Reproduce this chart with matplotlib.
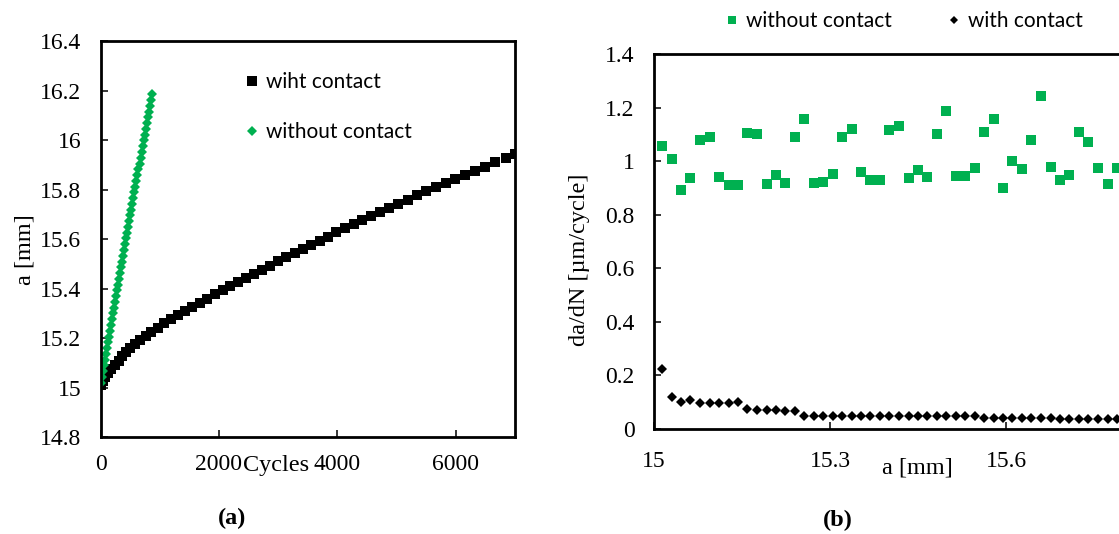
"""Crack growth: a vs cycles (a) and da/dN vs a (b), with and without contact."""

import matplotlib
matplotlib.use("Agg")
import matplotlib.pyplot as plt  # noqa: E402
from matplotlib.ticker import FuncFormatter, MultipleLocator  # noqa: E402

GREEN = "#00B050"
W, H = 1119, 534

# --- panel (a): crack length vs cycles ---
cycles_with = [0, 35, 80, 130, 185, 245, 305, 365, 430, 500, 580, 665, 760, 860,
               965, 1075, 1190, 1305, 1425, 1550, 1675, 1805, 1935, 2065, 2195,
               2330, 2465, 2600, 2735, 2870, 3005, 3140, 3280, 3420, 3560, 3700,
               3840, 3985, 4130, 4275, 4420, 4570, 4720, 4875, 5030, 5185, 5345,
               5505, 5665, 5830, 5995, 6160, 6330, 6500, 6670, 6840, 7000]
a_with = [15.010, 15.027, 15.043, 15.060, 15.077, 15.093, 15.110, 15.127, 15.143,
          15.160, 15.177, 15.193, 15.210, 15.227, 15.243, 15.260, 15.277, 15.293,
          15.310, 15.327, 15.343, 15.360, 15.377, 15.393, 15.410, 15.427, 15.443,
          15.460, 15.477, 15.493, 15.510, 15.527, 15.543, 15.560, 15.577, 15.593,
          15.610, 15.627, 15.643, 15.660, 15.677, 15.693, 15.710, 15.727, 15.743,
          15.760, 15.777, 15.793, 15.810, 15.827, 15.843, 15.860, 15.877, 15.893,
          15.910, 15.927, 15.943]

cycles_without = [0, 17, 35, 52, 69, 87, 104, 121, 139, 156, 173, 191, 208, 225,
                  243, 260, 277, 295, 312, 329, 347, 364, 381, 399, 416, 433, 451,
                  468, 485, 503, 520, 537, 555, 572, 589, 607, 624, 641, 659, 676,
                  693, 711, 728, 745, 763, 780, 797, 815, 832, 849, 867]
a_without = [15.020, 15.043, 15.067, 15.090, 15.113, 15.137, 15.160, 15.183,
             15.206, 15.230, 15.253, 15.276, 15.300, 15.323, 15.346, 15.370,
             15.393, 15.416, 15.439, 15.463, 15.486, 15.509, 15.533, 15.556,
             15.579, 15.603, 15.626, 15.649, 15.672, 15.696, 15.719, 15.742,
             15.766, 15.789, 15.812, 15.835, 15.859, 15.882, 15.905, 15.929,
             15.952, 15.975, 15.999, 16.022, 16.045, 16.068, 16.092, 16.115,
             16.138, 16.162, 16.185]

# --- panel (b): growth rate vs crack length ---
a_rate = [15.014, 15.030, 15.046, 15.062, 15.079, 15.095, 15.111, 15.127, 15.143,
          15.159, 15.175, 15.192, 15.208, 15.224, 15.240, 15.256, 15.272, 15.288,
          15.305, 15.321, 15.337, 15.353, 15.369, 15.385, 15.401, 15.418, 15.434,
          15.450, 15.466, 15.482, 15.498, 15.514, 15.530, 15.547, 15.563, 15.579,
          15.595, 15.611, 15.627, 15.643, 15.660, 15.676, 15.692, 15.708, 15.724,
          15.740, 15.756, 15.773, 15.789, 15.805]
rate_without = [1.055, 1.007, 0.891, 0.938, 1.079, 1.090, 0.941, 0.911, 0.912,
                1.106, 1.101, 0.915, 0.949, 0.918, 1.089, 1.157, 0.919, 0.922,
                0.953, 1.091, 1.121, 0.958, 0.929, 0.929, 1.117, 1.132, 0.936,
                0.968, 0.940, 1.102, 1.187, 0.946, 0.946, 0.975, 1.110, 1.157,
                0.898, 1.002, 0.972, 1.079, 1.244, 0.978, 0.931, 0.949, 1.107,
                1.070, 0.973, 0.914, 0.974, 1.106]
rate_with = [0.225, 0.118, 0.100, 0.108, 0.098, 0.098, 0.098, 0.098, 0.099,
             0.075, 0.071, 0.070, 0.070, 0.067, 0.068, 0.050, 0.050, 0.050,
             0.050, 0.050, 0.050, 0.050, 0.050, 0.050, 0.050, 0.050, 0.050,
             0.050, 0.050, 0.050, 0.050, 0.050, 0.050, 0.049, 0.042, 0.042,
             0.041, 0.041, 0.041, 0.040, 0.040, 0.040, 0.039, 0.039, 0.039,
             0.038, 0.038, 0.038, 0.037, 0.037]
rate_ticks = [15, 15.3, 15.6]

plt.rcParams["font.family"] = ["Liberation Serif", "DejaVu Serif"]
LEG_FONT = {"family": "Lato", "size": 15}


def px_axes(left, top, right, bottom):
    return [left / W, 1 - bottom / H, (right - left) / W, (bottom - top) / H]


def style(ax):
    for s in ax.spines.values():
        s.set_linewidth(2.0)
    ax.tick_params(direction="in", length=5, width=1.1, labelsize=17, pad=14)
    ax.yaxis.set_major_formatter(FuncFormatter(lambda v, _: f"{v:g}"))
    ax.xaxis.set_major_formatter(FuncFormatter(lambda v, _: f"{v:g}"))


fig = plt.figure(figsize=(W / 100, H / 100), dpi=100)

ax1 = fig.add_axes(px_axes(100.5, 41, 515, 437.3))
ax1.plot(cycles_with, a_with, "s", color="black", ms=7.4, mew=0,
         label="wiht contact")
ax1.plot(cycles_without, a_without, "D", color=GREEN, ms=5.4, mew=0,
         label="without contact")
ax1.set_xlim(0, 7000)
ax1.set_ylim(14.8, 16.4)
ax1.xaxis.set_major_locator(MultipleLocator(2000))
ax1.yaxis.set_major_locator(MultipleLocator(0.2))
style(ax1)
ax1.tick_params(axis="x", pad=12)
ax1.legend(loc="upper left", bbox_to_anchor=(244 / W, 1 - 72 / H),
           bbox_transform=fig.transFigure, frameon=False, prop=LEG_FONT,
           handlelength=0.8, handletextpad=0.25, labelspacing=1.45,
           borderpad=0, borderaxespad=0, numpoints=1)

ax2 = fig.add_axes(px_axes(654, 54, 654 + 586.7 * 1.2, 429))
ax2.plot(a_rate, rate_without, "s", color=GREEN, ms=7.2, mew=0,
         label="without contact")
ax2.plot(a_rate, rate_with, "D", color="black", ms=4.8, mew=0,
         label="with contact")
ax2.set_xlim(15, 16.2)
ax2.set_ylim(0, 1.4)
ax2.set_xticks(rate_ticks)
ax2.yaxis.set_major_locator(MultipleLocator(0.2))
style(ax2)
ax2.tick_params(axis="x", pad=16)
ax2.legend(loc="upper left", bbox_to_anchor=(724 / W, 1 - 11 / H),
           bbox_transform=fig.transFigure, frameon=False, prop=LEG_FONT,
           ncol=2, handlelength=0.8, handletextpad=0.25, columnspacing=2.6,
           borderpad=0, borderaxespad=0, numpoints=1, markerscale=0.85)

fig.text(276 / W, 1 - 465 / H, "Cycles", ha="center", va="center", fontsize=17.5)
fig.text(25 / W, 1 - 250 / H, "a [mm]", ha="center", va="center", fontsize=17.5,
         rotation=90)
fig.text(232 / W, 1 - 518 / H, "(a)", ha="center", va="center", fontsize=17.5,
         fontweight="bold")
fig.text(917 / W, 1 - 468 / H, "a [mm]", ha="center", va="center", fontsize=17.5)
fig.text(580 / W, 1 - 260 / H, "da/dN [µm/cycle]", ha="center", va="center",
         fontsize=17.5, rotation=90)
fig.text(838 / W, 1 - 520 / H, "(b)", ha="center", va="center", fontsize=17.5,
         fontweight="bold")

fig.savefig("out.png", dpi=100)
